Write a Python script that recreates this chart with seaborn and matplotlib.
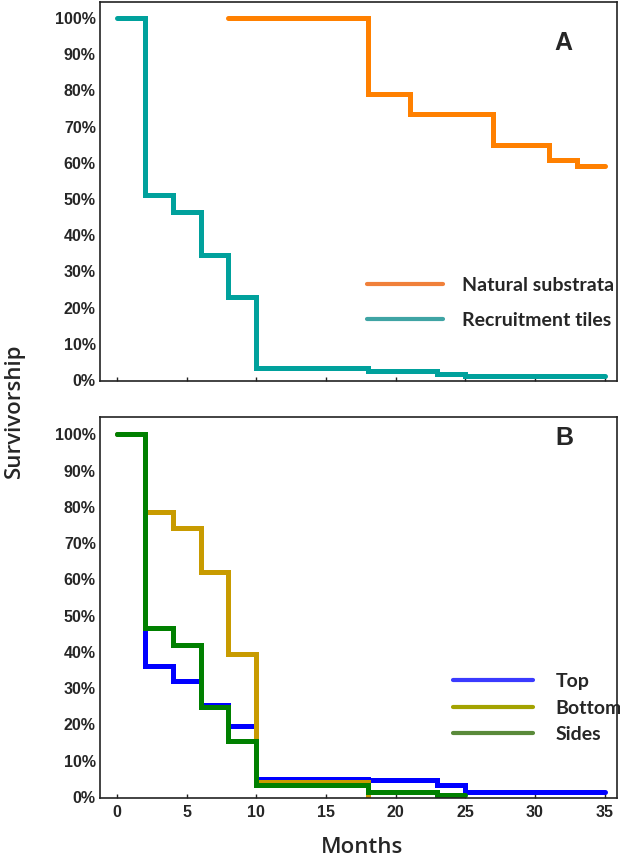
import matplotlib
matplotlib.use("Agg")
import matplotlib.pyplot as plt
import seaborn as sns
import pandas as pd
from matplotlib.lines import Line2D
from matplotlib.ticker import PercentFormatter

# Panel A: survivorship by substrate (months, %)
natural_months = [8, 18, 21, 27, 31, 33, 35]
natural_surv = [100, 79, 73.5, 65, 60.7, 59.1, 59.1]
tiles_months = [0, 2, 4, 6, 8, 10, 18, 23, 25, 35]
tiles_surv = [100, 51, 46.5, 34.5, 23, 3.2, 2.5, 1.7, 1.0, 1.0]

# Panel B: survivorship by tile position
top_months = [0, 2, 4, 6, 8, 10, 18, 23, 25, 35]
top_surv = [100, 36, 32, 25.5, 19.5, 5.0, 4.7, 3.2, 1.4, 1.4]
bottom_months = [0, 2, 4, 6, 8, 10, 18]
bottom_surv = [100, 78.5, 74.2, 62, 39.3, 4.1, 0]
sides_months = [0, 2, 4, 6, 8, 10, 18, 23, 25]
sides_surv = [100, 46.5, 42, 24.8, 15.4, 3.2, 1.3, 0.5, 0.5]

xticks = [0, 5, 10, 15, 20, 25, 30, 35]
yticks = list(range(0, 101, 10))

sns.set_style("white")
plt.rcParams['font.family'] = ['Liberation Sans', 'DejaVu Sans']

fig = plt.figure(figsize=(6.2, 8.6), dpi=100)
ax1 = fig.add_axes([0.1613, 0.557, 0.834, 0.4407])
ax2 = fig.add_axes([0.1613, 0.0721, 0.834, 0.443])

lw = 3.6


def step_line(ax, months, surv, color):
    df = pd.DataFrame({'Month': months, 'Surv': surv})
    sns.lineplot(data=df, x='Month', y='Surv', ax=ax, color=color, lw=lw,
                 drawstyle='steps-post', solid_capstyle='round',
                 solid_joinstyle='miter', estimator=None, sort=False)


step_line(ax1, natural_months, natural_surv, '#FF8000')
step_line(ax1, tiles_months, tiles_surv, '#00A19C')

step_line(ax2, top_months, top_surv, '#0000FF')
step_line(ax2, bottom_months, bottom_surv, '#C89B00')
step_line(ax2, sides_months, sides_surv, '#008000')

legend_font = dict(family=['Lato', 'DejaVu Sans'], weight='bold', size=14)

for ax, ylim in [(ax1, (-0.25, 104.4)), (ax2, (-0.28, 104.8))]:
    ax.set_xlim(-1.22, 35.9)
    ax.set_ylim(*ylim)
    ax.set_xticks(xticks)
    ax.set_yticks(yticks)
    ax.yaxis.set_major_formatter(PercentFormatter(decimals=0))
    ax.set_xlabel('')
    ax.set_ylabel('')
    for s in ax.spines.values():
        s.set_color('#222222')
        s.set_linewidth(1.2)
    ax.tick_params(axis='y', length=0, pad=3, labelsize=11.5)
    ax.tick_params(axis='x', direction='in', length=3, width=1, color='#222222',
                   bottom=True, pad=5, labelsize=11.5)
    for lab in ax.get_xticklabels() + ax.get_yticklabels():
        lab.set_fontweight('bold')

ax1.tick_params(axis='x', labelbottom=False)

ax1.text(0.896, 0.892, 'A', transform=ax1.transAxes, ha='center', va='center',
         fontsize=18, fontweight='bold')
ax2.text(0.898, 0.945, 'B', transform=ax2.transAxes, ha='center', va='center',
         fontsize=18, fontweight='bold')

handles_a = [Line2D([], [], color='#F0803A', lw=3),
             Line2D([], [], color='#3FA4A4', lw=3)]
ax1.legend(handles_a, ['Natural substrata', 'Recruitment tiles'],
           loc='center left', bbox_to_anchor=(0.516, 0.206), frameon=False,
           borderpad=0, borderaxespad=0, handlelength=3.9, handletextpad=1.0,
           labelspacing=0.95, prop=legend_font)

handles_b = [Line2D([], [], color='#3A3AFF', lw=3),
             Line2D([], [], color='#A3A300', lw=3),
             Line2D([], [], color='#5A8A3A', lw=3)]
ax2.legend(handles_b, ['Top', 'Bottom', 'Sides'],
           loc='center left', bbox_to_anchor=(0.683, 0.236), frameon=False,
           borderpad=0, borderaxespad=0, handlelength=4.1, handletextpad=1.15,
           labelspacing=0.5, prop=legend_font)

fig.text(0.024, 0.522, 'Survivorship', rotation=90, ha='center', va='center',
         family=['Open Sans', 'DejaVu Sans'], fontsize=16, fontweight='semibold')
fig.text(0.584, 0.015, 'Months', ha='center', va='center',
         family=['Open Sans', 'DejaVu Sans'], fontsize=16, fontweight='semibold')

fig.savefig('out.png', dpi=100, facecolor='white')
